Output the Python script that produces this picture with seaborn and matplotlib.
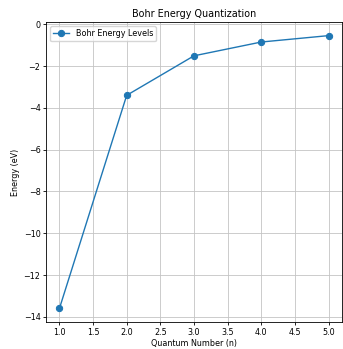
import numpy as np
import pandas as pd
import seaborn as sns
import matplotlib
matplotlib.use("Agg")
import matplotlib.pyplot as plt

# Bohr model energy levels
n_levels = [1, 2, 3, 4, 5]
energies = [-13.6, -3.4, -1.51, -0.85, -0.544]

df = pd.DataFrame({'n': n_levels, 'energy': energies})

fig = plt.figure(figsize=(3.43, 3.49), dpi=100)
ax = fig.add_axes([0.134, 0.077, 0.863, 0.860])

sns.lineplot(data=df, x='n', y='energy', marker='o', color='#1f77b4',
             markeredgecolor='#1f77b4', markersize=4.5, linewidth=1.0,
             label='Bohr Energy Levels', ax=ax)

ax.set_title('Bohr Energy Quantization', fontsize=6.9, pad=3.5)
ax.set_xlabel('Quantum Number (n)', fontsize=5.75, labelpad=2)
ax.set_ylabel('Energy (eV)', fontsize=5.75, labelpad=2.5)
ax.tick_params(labelsize=5.75, length=2, width=0.6, pad=2)
for s in ax.spines.values():
    s.set_linewidth(0.6)
ax.grid(True, color='#c4c4c4', linewidth=0.6)
ax.legend(loc='upper left', fontsize=5.75)

fig.savefig('out.png', dpi=100)
